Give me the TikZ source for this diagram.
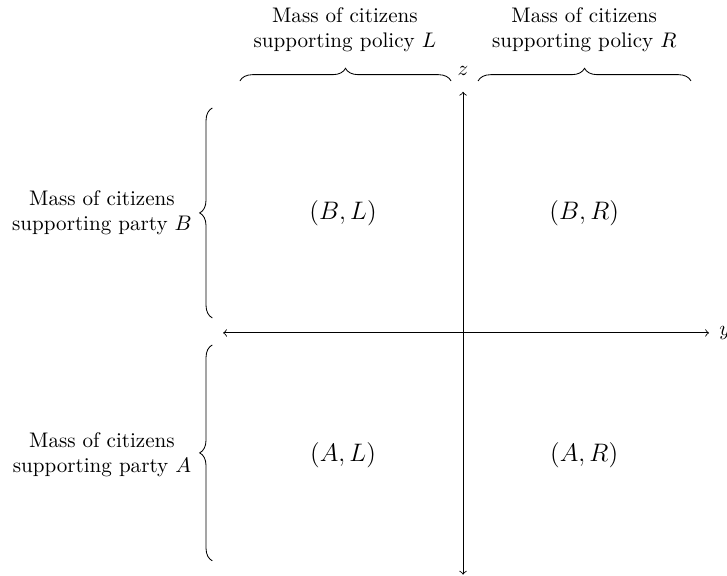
\documentclass[tikz,border=0pt]{standalone}
\usetikzlibrary{decorations.pathreplacing,positioning}

\begin{document}
\begin{tikzpicture}[
  ax/.style={<->},
  br/.style={decorate,decoration={brace,amplitude=6pt}},
  lbl/.style={align=center},
  cell/.style={font=\large}
]
  \useasboundingbox (-7.72,-4.05) rectangle (4.40,5.55);
  % axes
  \coordinate (left) at (-4,0);
  \coordinate (right) at (4.1,0);
  \coordinate (bot) at (0,-4.03);
  \coordinate (top) at (0,4.02);
  \draw[ax] (left) -- (right);
  \draw[ax] (bot) -- (top);
  \node[right=0.05 of right] (ylab) {$y$};
  \node[above=0.15 of top] (zlab) {$z$};
  % cells
  \node[cell] (BL) at (-2,2) {$(B,L)$};
  \node[cell] (BR) at (2.02,2) {$(B,R)$};
  \node[cell] (AL) at (-2,-2.03) {$(A,L)$};
  \node[cell] (AR) at (2.02,-2.03) {$(A,R)$};
  % braces
  \coordinate (bB1) at (-4.18,0.25);
  \coordinate (bB2) at (-4.18,3.75);
  \coordinate (bA1) at (-4.18,-3.8);
  \coordinate (bA2) at (-4.18,-0.2);
  \coordinate (bL1) at (-3.72,4.2);
  \coordinate (bL2) at (-0.2,4.2);
  \coordinate (bR1) at (0.25,4.2);
  \coordinate (bR2) at (3.8,4.2);
  \draw[br] (bB1) -- (bB2);
  \draw[br] (bA1) -- (bA2);
  \draw[br] (bL1) -- (bL2);
  \draw[br] (bR1) -- (bR2);
  \node[lbl] (partyB) at (-6.02,2) {Mass of citizens\\supporting party $B$};
  \node[lbl] (partyA) at (-6.02,-2.03) {Mass of citizens\\supporting party $A$};
  \node[lbl] (polL) at (-1.97,5.05) {Mass of citizens\\supporting policy $L$};
  \node[lbl] (polR) at (2.02,5.05) {Mass of citizens\\supporting policy $R$};
\end{tikzpicture}
\end{document}
